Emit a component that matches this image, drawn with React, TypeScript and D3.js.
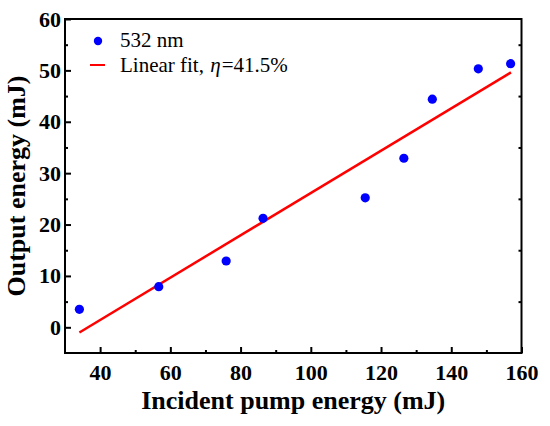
import React, { useEffect, useRef } from 'react';
import * as d3 from 'd3';

const pumpEnergy = [34.1, 56.7, 75.9, 86.4, 115.5, 126.5, 134.6, 147.7, 156.9];
const outputEnergy = [3.5, 7.9, 12.9, 21.2, 25.2, 32.9, 44.4, 50.3, 51.3];
const fitX = [34.1, 157];
const fitY = [-1.0, 49.6];
const xTicks = [40, 60, 80, 100, 120, 140, 160];
const xMinorTicks = [50, 70, 90, 110, 130, 150];
const yTicks = [0, 10, 20, 30, 40, 50, 60];
const yMinorTicks = [5, 15, 25, 35, 45, 55];

const FONT = 'Liberation Serif, serif';

const App: React.FC = () => {
  const containerRef = useRef<HTMLDivElement>(null);

  useEffect(() => {
    if (containerRef.current) drawChart(containerRef.current);
  }, []);

  return <div ref={containerRef} style={{ position: 'absolute', left: 0, top: 0 }}></div>;
};

const drawChart = (container: HTMLDivElement) => {
  const width = 550;
  const height = 426;
  const left = 65;
  const right = 521.5;
  const top = 19;
  const bottom = 353;

  d3.select(container).select('svg').remove();

  const svg = d3
    .select(container)
    .append('svg')
    .attr('width', width)
    .attr('height', height)
    .attr('font-family', FONT)
    .style('display', 'block')
    .style('background', '#fff');

  const xScale = d3.scaleLinear().domain([30, 160]).range([left, right]);
  const yScale = d3.scaleLinear().domain([-5, 60]).range([bottom, top]);

  // bottom axis: major + minor ticks pointing inward
  const xAxisG = svg.append('g').attr('transform', `translate(0, ${bottom})`);
  xAxisG.call(
    d3.axisBottom(xScale).tickValues(xTicks).tickSize(-6).tickPadding(11).tickFormat(d3.format('d'))
  );
  xAxisG
    .append('g')
    .call(d3.axisBottom(xScale).tickValues(xMinorTicks).tickSize(-3).tickFormat(() => ''));

  const yAxisG = svg.append('g').attr('transform', `translate(${left}, 0)`);
  yAxisG.call(
    d3.axisLeft(yScale).tickValues(yTicks).tickSize(-6).tickPadding(4).tickFormat(d3.format('d'))
  );
  yAxisG
    .append('g')
    .call(d3.axisLeft(yScale).tickValues(yMinorTicks).tickSize(-3).tickFormat(() => ''));

  // right side carries only the small ticks
  svg
    .append('g')
    .attr('transform', `translate(${right}, 0)`)
    .call(d3.axisRight(yScale).tickValues(yMinorTicks).tickSize(-3).tickFormat(() => ''));

  svg.selectAll('.domain').remove();
  svg.selectAll('g').attr('font-family', FONT);
  svg.selectAll('.tick line').attr('stroke', '#000').attr('stroke-width', 2);
  svg
    .selectAll('.tick text')
    .attr('fill', '#000')
    .attr('font-family', FONT)
    .attr('font-weight', 'bold')
    .attr('font-size', 22);

  // frame
  svg
    .append('rect')
    .attr('x', left)
    .attr('y', top)
    .attr('width', right - left)
    .attr('height', bottom - top)
    .attr('fill', 'none')
    .attr('stroke', '#000')
    .attr('stroke-width', 2);

  // fit line
  const lineGenerator = d3
    .line<number>()
    .x((d) => xScale(d))
    .y((d, i) => yScale(fitY[i]));

  svg
    .append('path')
    .attr('d', lineGenerator(fitX) || '')
    .attr('fill', 'none')
    .attr('stroke', '#ff0000')
    .attr('stroke-width', 2.5);

  svg
    .append('g')
    .selectAll('circle')
    .data(pumpEnergy)
    .enter()
    .append('circle')
    .attr('cx', (d) => xScale(d))
    .attr('cy', (d, i) => yScale(outputEnergy[i]))
    .attr('r', 4.6)
    .attr('fill', '#0000ff');

  // legend
  const legend = svg.append('g').attr('font-family', FONT).attr('font-size', 21);
  legend.append('circle').attr('cx', 98).attr('cy', 41).attr('r', 4.2).attr('fill', '#0000ff');
  legend
    .append('line')
    .attr('x1', 90)
    .attr('x2', 105)
    .attr('y1', 65)
    .attr('y2', 65)
    .attr('stroke', '#ff0000')
    .attr('stroke-width', 2);
  legend.append('text').attr('x', 120).attr('y', 46.5).text('532 nm');
  const fitText = legend.append('text').attr('x', 120).attr('y', 71.5);
  fitText.append('tspan').text('Linear fit, ');
  fitText.append('tspan').attr('font-style', 'italic').attr('dx', 1).text('η');
  fitText.append('tspan').attr('dx', 1).text('=41.5%');

  // axis titles
  svg
    .append('text')
    .attr('x', (left + right) / 2)
    .attr('y', 409)
    .attr('text-anchor', 'middle')
    .attr('font-family', FONT)
    .attr('font-weight', 'bold')
    .attr('font-size', 26)
    .text('Incident pump energy (mJ)');

  svg
    .append('text')
    .attr('transform', `translate(25, ${(top + bottom) / 2}) rotate(-90)`)
    .attr('text-anchor', 'middle')
    .attr('font-family', FONT)
    .attr('font-weight', 'bold')
    .attr('font-size', 26)
    .text('Output energy (mJ)');
};

export default App;
